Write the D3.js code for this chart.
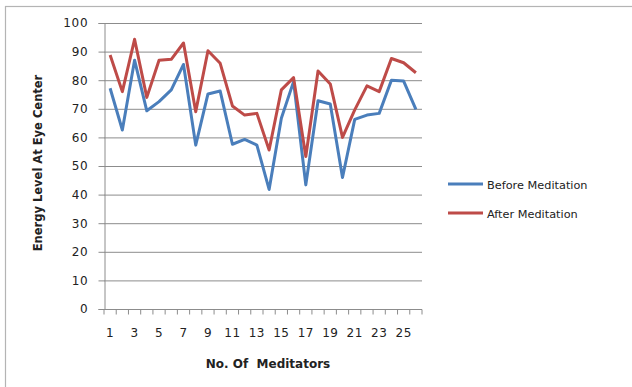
<!DOCTYPE html>
<html><head><meta charset="utf-8">
<script src="https://cdn.jsdelivr.net/npm/d3@7/dist/d3.min.js"></script>
<style>body{margin:0;background:#fff}svg{display:block}</style>
</head><body>
<svg id="c" width="632" height="387"></svg>
<script>
const categories = d3.range(1, 27);
const before = [77.2,62.6,87,69.3,72.5,76.6,85.5,57.3,75.2,76.2,57.6,59.3,57.3,41.8,66.7,79.5,43.4,72.8,71.7,46,66.3,67.8,68.4,80,79.7,69.8];
const after  = [88.8,76,94.3,74,87,87.3,93,69,90.3,85.9,71,67.8,68.4,55.6,76.6,80.9,53.3,83.2,78.7,60,69.6,78,76,87.6,86.1,82.6];
const yTicks = d3.range(0, 101, 10);
const xTickLabels = [1,3,5,7,9,11,13,15,17,19,21,23,25];
const seriesNames = ["Before Meditation","After Meditation"];
const colors = ["#4a7ebb","#be4b48"];

const svg = d3.select("#c");
svg.append("rect").attr("x",5.5).attr("y",6.5).attr("width",700).attr("height",500)
  .attr("fill","none").attr("stroke","#b4b4b4").attr("stroke-width",1.2);

const L=104, R=422, T=23, B=309;
const x = d3.scaleBand().domain(categories).range([L,R]).padding(0);
const y = d3.scaleLinear().domain([0,100]).range([B,T]);
const font = "DejaVu Sans, sans-serif";

// gridlines
svg.append("g").selectAll("line").data(yTicks.filter(d=>d>0)).join("line")
  .attr("x1",L).attr("x2",R).attr("y1",d=>y(d)+0.5).attr("y2",d=>y(d)+0.5)
  .attr("stroke","#8c8c8c").attr("stroke-width",1);

// y axis
const ya = svg.append("g").attr("transform",`translate(${L+0.5},0)`)
  .call(d3.axisLeft(y).tickValues(yTicks).tickSize(6).tickPadding(10));
ya.select(".domain").attr("stroke","#8c8c8c");
ya.selectAll(".tick line").attr("stroke","#8c8c8c");
ya.selectAll("text").attr("font-family",font).attr("font-size",12).attr("fill","#222").attr("letter-spacing","0.8px");

// x axis
const xa = svg.append("g").attr("transform",`translate(0,${B+0.5})`);
xa.append("line").attr("x1",L).attr("x2",R).attr("stroke","#8c8c8c");
xa.selectAll("line.t").data(categories.concat([27])).join("line").attr("class","t")
  .attr("x1",d=>d<=26?x(d):R).attr("x2",d=>d<=26?x(d):R).attr("y1",0).attr("y2",5).attr("stroke","#8c8c8c");
xa.selectAll("text").data(xTickLabels).join("text")
  .attr("x",d=>x(d)+x.bandwidth()/2).attr("y",27).attr("text-anchor","middle")
  .attr("font-family",font).attr("font-size",12).attr("fill","#222").attr("letter-spacing","0.5px").text(d=>d);

// lines
const line = d3.line().x((d,i)=>x(categories[i])+x.bandwidth()/2).y(d=>y(d));
[before, after].forEach((s,k)=>{
  svg.append("path").datum(s).attr("d",line).attr("fill","none")
    .attr("stroke",colors[k]).attr("stroke-width",3).attr("stroke-linejoin","round");
});

// axis titles
svg.append("text").attr("transform","translate(42,163) rotate(-90)").attr("text-anchor","middle")
  .attr("font-family",font).attr("font-size",11.5).attr("font-weight","bold").attr("fill","#222")
  .text("Energy Level At Eye Center");
svg.append("text").attr("x",268).attr("y",368).attr("text-anchor","middle")
  .attr("font-family",font).attr("font-size",12).attr("font-weight","bold").attr("fill","#222")
  .attr("xml:space","preserve").style("white-space","pre").text("No. Of  Meditators");

// legend
const lg = svg.append("g");
seriesNames.forEach((n,k)=>{
  const yy = 184 + k*29;
  lg.append("line").attr("x1",448).attr("x2",483).attr("y1",yy).attr("y2",yy)
    .attr("stroke",colors[k]).attr("stroke-width",3);
  lg.append("text").attr("x",487).attr("y",yy+4.5).attr("font-family",font).attr("font-size",11.3)
    .attr("fill","#222").text(n);
});
</script>
</body></html>
